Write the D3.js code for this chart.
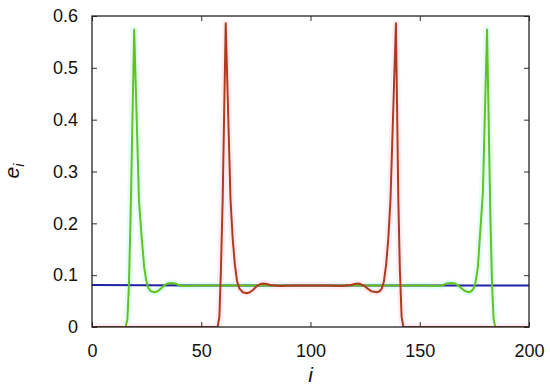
<!DOCTYPE html>
<html>
<head>
<meta charset="utf-8">
<title>e_i</title>
<script src="https://d3js.org/d3.v7.min.js"></script>
<style>
  body { margin: 0; background: #fff; }
  text { font-family: "Liberation Sans", Arial, sans-serif; fill: #111; }
  .frame { fill: none; stroke: #222; stroke-width: 1.3px; }
  .tick line { stroke: #333; }
  .lbl { font-size: 18px; }
  .title { font-size: 21px; font-style: italic; }
</style>
</head>
<body>
<script>
// tick values
const xTicks = [0, 50, 100, 150, 200];
const yTicks = [0, 0.1, 0.2, 0.3, 0.4, 0.5, 0.6];

// series as [i, e_i] points
const bluePts = [[0, 0.081], [50, 0.08], [100, 0.08], [150, 0.08], [200, 0.08]];

const greenPts = [
  [0, 0], [15.4, 0], [16.2, 0.015], [16.9, 0.08], [17.7, 0.22], [19.3, 0.574],
  [21.5, 0.245], [22.7, 0.175], [23.9, 0.115], [24.8, 0.09], [25.8, 0.075], [27, 0.069],
  [28.7, 0.067], [30, 0.069], [31.5, 0.074], [33, 0.08], [34.6, 0.084], [36.4, 0.085],
  [38, 0.084], [39.6, 0.081], [42, 0.079], [48, 0.08], [100, 0.08], [152, 0.08],
  [158, 0.079], [160.8, 0.081], [162.4, 0.084], [164.2, 0.085], [166, 0.084],
  [167.6, 0.08], [169, 0.075], [170.5, 0.07], [172.4, 0.067], [173.6, 0.069],
  [174.6, 0.074], [175.5, 0.085], [176.6, 0.115], [177.7, 0.185], [178.9, 0.26],
  [180.8, 0.574], [182.3, 0.22], [183.1, 0.08], [183.8, 0.015], [184.6, 0], [200, 0]
];

const redPts = [
  [0, 0], [57.5, 0], [58.3, 0.02], [59, 0.11], [59.8, 0.245], [61.2, 0.586],
  [63.4, 0.245], [64.4, 0.17], [65.4, 0.12], [66.4, 0.088], [67.5, 0.074], [69, 0.067],
  [70.8, 0.065], [72.3, 0.067], [73.8, 0.072], [75.5, 0.079], [77, 0.083], [78.4, 0.084],
  [80, 0.083], [81.5, 0.081], [86, 0.079], [92, 0.08], [100, 0.08], [108, 0.08],
  [114, 0.079], [118.5, 0.081], [120.2, 0.083], [121.9, 0.084], [123.3, 0.082],
  [124.6, 0.079], [126.2, 0.074], [127.8, 0.069], [130.3, 0.067], [131.6, 0.069],
  [132.6, 0.074], [133.6, 0.088], [134.6, 0.12], [135.6, 0.17], [136.6, 0.245],
  [139.1, 0.586], [140.2, 0.245], [140.9, 0.11], [141.7, 0.02], [142.5, 0], [200, 0]
];

const width = 550, height = 390;
const margin = {left: 92, right: 21, top: 16, bottom: 63};

const svg = d3.select('body').append('svg')
  .attr('width', width)
  .attr('height', height);

const x = d3.scaleLinear().domain([0, 200]).range([margin.left, width - margin.right]);
const y = d3.scaleLinear().domain([0, 0.6]).range([height - margin.bottom, margin.top]);

svg.append('clipPath').attr('id', 'plot')
  .append('rect')
  .attr('x', margin.left).attr('y', margin.top)
  .attr('width', width - margin.left - margin.right)
  .attr('height', height - margin.top - margin.bottom);

const line = d3.line()
  .x(d => x(d[0]))
  .y(d => y(d[1]));

const lines = svg.append('g').attr('clip-path', 'url(#plot)')
  .attr('fill', 'none').attr('stroke-linejoin', 'round');

// faint halos under the green and red curves
lines.append('path').attr('d', line(greenPts))
  .attr('stroke', '#e4fcfc').attr('stroke-width', 7);
lines.append('path').attr('d', line(redPts))
  .attr('stroke', '#fdeef6').attr('stroke-width', 7);

lines.append('path').attr('d', line(bluePts))
  .attr('stroke', '#2222a6').attr('stroke-width', 2);
lines.append('path').attr('d', line(greenPts))
  .attr('stroke', '#62c41a').attr('stroke-width', 2);
lines.append('path').attr('d', line(redPts))
  .attr('stroke', '#b03a1c').attr('stroke-width', 2);

// axes with inward ticks on all four sides
const tk = 5;
svg.append('g').attr('class', 'lbl')
  .attr('transform', 'translate(0,' + (height - margin.bottom) + ')')
  .call(d3.axisBottom(x).tickValues(xTicks).tickSizeInner(-tk).tickSizeOuter(0).tickPadding(17))
  .call(g => g.select('.domain').remove());
svg.append('g')
  .attr('transform', 'translate(0,' + margin.top + ')')
  .call(d3.axisTop(x).tickValues(xTicks).tickSizeInner(-tk).tickSizeOuter(0).tickFormat(''))
  .call(g => g.select('.domain').remove());
svg.append('g').attr('class', 'lbl')
  .attr('transform', 'translate(' + margin.left + ',0)')
  .call(d3.axisLeft(y).tickValues(yTicks).tickSizeInner(-tk).tickSizeOuter(0).tickPadding(14)
    .tickFormat(d => d === 0 ? '0' : d3.format('.1f')(d)))
  .call(g => g.select('.domain').remove());
svg.append('g')
  .attr('transform', 'translate(' + (width - margin.right) + ',0)')
  .call(d3.axisRight(y).tickValues(yTicks).tickSizeInner(-tk).tickSizeOuter(0).tickFormat(''))
  .call(g => g.select('.domain').remove());

svg.selectAll('g').attr('font-family', null).attr('font-size', null);

svg.append('rect').attr('class', 'frame')
  .attr('x', margin.left).attr('y', margin.top)
  .attr('width', width - margin.left - margin.right)
  .attr('height', height - margin.top - margin.bottom);

// axis titles
svg.append('text').attr('class', 'title')
  .attr('x', (margin.left + width - margin.right) / 2)
  .attr('y', 382)
  .attr('text-anchor', 'middle')
  .text('i');

const yl = svg.append('text').attr('class', 'title')
  .attr('transform', 'translate(19,171) rotate(-90)')
  .attr('text-anchor', 'middle');
yl.append('tspan').text('e');
yl.append('tspan').attr('dy', 5).attr('font-size', '14px').text('i');
</script>
</body>
</html>
